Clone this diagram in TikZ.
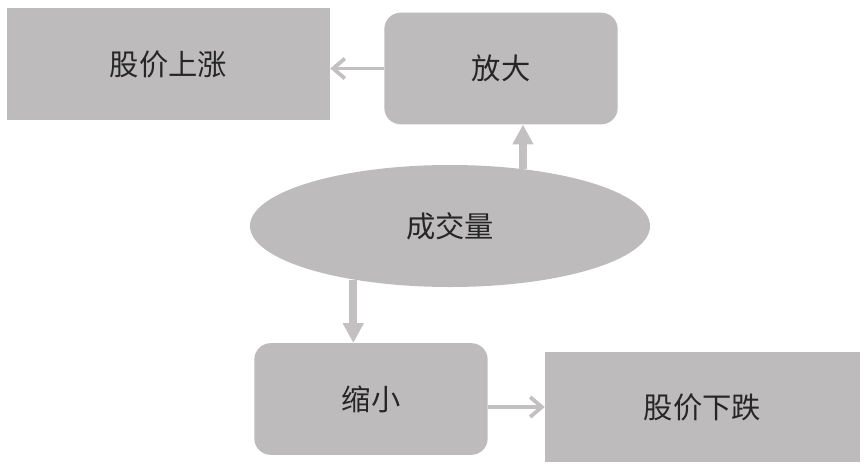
\documentclass[tikz,border=0pt]{standalone}
\usepackage{fontspec}
\newfontfamily\cjk{Noto Sans CJK SC}
\usetikzlibrary{arrows.meta,shapes.geometric}

\definecolor{boxgray}{HTML}{BDBBBC}
\definecolor{arrowgray}{HTML}{C2C0C1}

\begin{document}
\begin{tikzpicture}[
  x=0.03cm,y=-0.03cm,
  font=\cjk\fontsize{25}{30}\selectfont,
  price/.style={fill=boxgray,text=black!85,inner sep=0pt},
  volumebox/.style={fill=boxgray,text=black!85,rounded corners=14pt,
    minimum width=7cm,minimum height=3.35cm,inner sep=0pt},
  volume/.style={ellipse,fill=boxgray,text=black!85,
    minimum width=12cm,minimum height=3.66cm,inner sep=0pt},
  push/.style={-{Triangle[length=17pt,width=17pt]},line width=7pt,arrowgray},
  lead/.style={-{Straight Barb[length=10pt,width=17pt]},line width=3.2pt,arrowgray}
]
  \useasboundingbox (0,0) rectangle (866,469);

  \node[price,minimum width=9.69cm,minimum height=3.36cm] (rise) at (168.5,64) {股价上涨};
  \node[volumebox] (enlarge) at (501,68.5) {放大};
  \node[volume] (amount) at (450,226) {成交量};
  \node[volumebox] (shrink) at (371,399) {缩小};
  \node[price,minimum width=9.45cm,minimum height=3.3cm] (fall) at (702.5,407) {股价下跌};

  \draw[push] (amount.38) -- (amount.38 |- enlarge.south);
  \draw[push] (amount.209) -- (amount.209 |- shrink.north);
  \draw[lead] (enlarge.west) -- (enlarge.west -| rise.east);
  \draw[lead] (fall.west -| shrink.east) -- (fall.west);
\end{tikzpicture}
\end{document}
